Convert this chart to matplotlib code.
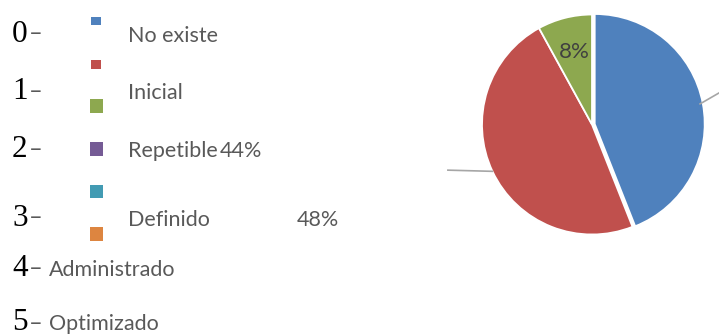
import matplotlib
matplotlib.use("Agg")
import matplotlib.pyplot as plt
import numpy as np
from matplotlib.patches import Rectangle

# niveles de madurez y su reparto
niveles = ["No existe", "Inicial", "Repetible", "Definido", "Administrado", "Optimizado"]
numeros = ["0", "1", "2", "3", "4", "5"]
porcentajes = [44, 48, 8, 0, 0, 0]
colores = ["#4F81BD", "#C0504D", "#8DA84F", "#755B95", "#429BB3", "#DD8540"]

W, H = 719, 334
fig = plt.figure(figsize=(W / 100, H / 100), dpi=100)

# capa de fondo en pixeles para textos y leyenda
bg = fig.add_axes([0, 0, 1, 1])
bg.set_xlim(0, W)
bg.set_ylim(H, 0)
bg.axis("off")

gris = "#595959"
sans = "Lato"
serif = "Liberation Serif"
tam = 15.5

# filas de la lista: (base del texto, x del texto)
filas_y = [41.5, 99, 157, 225.5, 276, 330.5]
texto_x = [128, 128, 128, 128, 49, 49]
for num, nivel, y, tx in zip(numeros, niveles, filas_y, texto_x):
    bg.text(12, y, num, family=serif, fontsize=22.5, color="black", va="baseline")
    bg.text(29, y - 1, "\u2013", family=sans, fontsize=17, color=gris, va="baseline")
    bg.text(tx, y, nivel, family=sans, fontsize=tam, color=gris, va="baseline")

# marcadores de la leyenda
marcas = [(90.5, 17, 10, 8), (90.5, 59.5, 10, 9), (90, 99, 13, 13.5),
          (90, 142, 13, 13.5), (90, 184.5, 13, 13.5), (90, 227, 13, 13.5)]
for (mx, my, mw, mh), c in zip(marcas, colores):
    bg.add_patch(Rectangle((mx, my), mw, mh, facecolor=c, edgecolor="none"))

# etiquetas de porcentaje desplazadas
bg.text(220, 157, f"{porcentajes[0]}%", family=sans, fontsize=tam, color=gris, va="baseline")
bg.text(297, 225.5, f"{porcentajes[1]}%", family=sans, fontsize=tam, color=gris, va="baseline")

# grafico circular
cx, cy, r = 592, 124.5, 110
lado = 2.2 * r
ax = fig.add_axes([(cx - lado / 2) / W, (H - cy - lado / 2) / H, lado / W, lado / H])
vals = [p for p in porcentajes if p > 0]
cols = [c for p, c in zip(porcentajes, colores) if p > 0]
explode = [0.025] + [0] * (len(vals) - 1)
wedges, _ = ax.pie(vals, colors=cols, startangle=90, counterclock=False,
                   explode=explode, wedgeprops=dict(edgecolor="white", linewidth=1.3))
ax.set_xlim(-1.1, 1.1)
ax.set_ylim(-1.1, 1.1)
ax.set_aspect("equal")
ax.axis("off")

# lineas guia hacia las etiquetas
ang = [(w.theta1 + w.theta2) / 2 for w in wedges]
finales = [(1.16, 0.29), (-1.31, -0.415)]
for a, (ex, ey) in zip(ang[:2], finales):
    t = np.deg2rad(a)
    ax.plot([np.cos(t) * 1.0, ex], [np.sin(t) * 1.0, ey], color="#A6A6A6",
            linewidth=1.2, clip_on=False)

ax.text(-0.16, 0.66, f"{porcentajes[2]}%", family=sans, fontsize=16, color="#404040",
        ha="center", va="center")

fig.savefig("out.png", dpi=100)
